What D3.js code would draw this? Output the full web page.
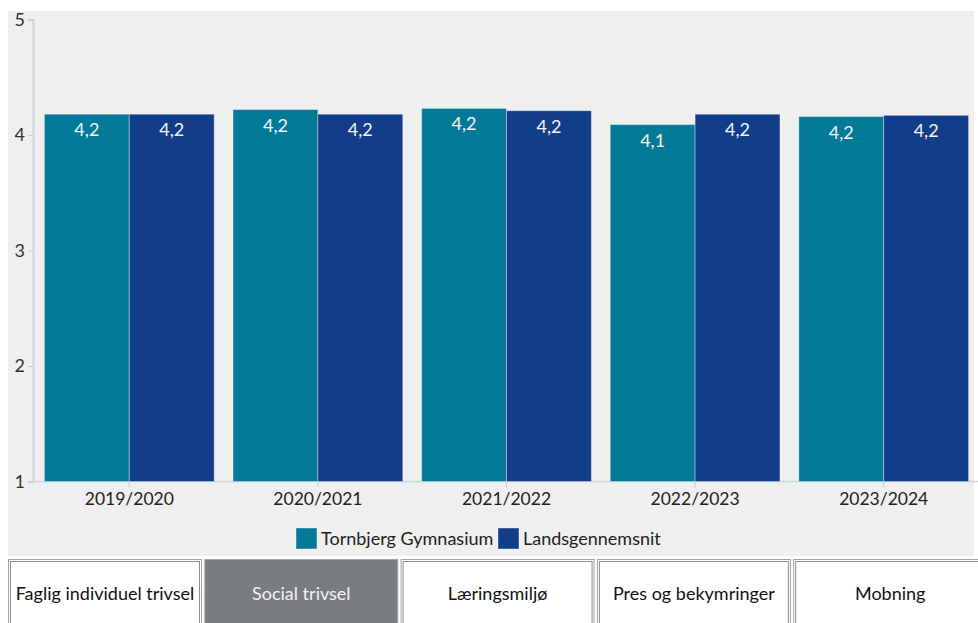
<!DOCTYPE html>
<html>
<head>
<meta charset="utf-8">
<script src="https://cdn.jsdelivr.net/npm/d3@7"></script>
<style>
  body { margin: 0; background: #fff; font-family: Lato, "Open Sans", sans-serif; }
  svg { display: block; }
</style>
</head>
<body>
<svg id="chart" width="978" height="623"></svg>
<script>
// data
const aar = ["2019/2020", "2020/2021", "2021/2022", "2022/2023", "2023/2024"]
const tornbjerg = [4.18, 4.22, 4.23, 4.09, 4.16]
const lands = [4.18, 4.18, 4.21, 4.18, 4.17]
const serier = ["Tornbjerg Gymnasium", "Landsgennemsnit"]
const yTicks = [1, 2, 3, 4, 5]
const knapper = ["Faglig individuel trivsel", "Social trivsel", "Læringsmiljø", "Pres og bekymringer", "Mobning"]
const aktiv = "Social trivsel"

const farver = ["#037b98", "#123d89"]

const svg = d3.select('#chart')

// grå baggrund
svg.append('rect')
  .attr('x', 8).attr('y', 11)
  .attr('width', 966).attr('height', 545)
  .attr('fill', '#efefef')

// skalaer
const x = d3.scaleBand().domain(aar).range([35, 978]).paddingInner(0.1).paddingOuter(0.05)
const xSerie = d3.scaleBand().domain(serier).range([0, x.bandwidth()])
const y = d3.scaleLinear().domain([1, 5]).range([481.5, 19.5])

// y-akse
const yAxis = svg.append('g')
  .attr('transform', 'translate(33,0)')
  .call(d3.axisLeft(y).tickValues(yTicks).tickSize(5).tickPadding(3).tickFormat(d3.format('d')))
yAxis.select('.domain').attr('stroke', '#cfd3da').attr('stroke-width', 2)
yAxis.selectAll('.tick line').attr('stroke', '#c8ccd2')
yAxis.selectAll('.tick text')
  .attr('fill', '#333').attr('font-size', 18).attr('font-family', 'Lato')

// x-akse
const xAxis = svg.append('g')
  .attr('transform', 'translate(0,481.5)')
  .call(d3.axisBottom(x).tickSize(6).tickPadding(5).tickSizeOuter(0))
xAxis.select('.domain').attr('stroke', '#cfd3da').attr('stroke-width', 1.5)
  .attr('d', 'M33,0H978')
xAxis.selectAll('.tick line').attr('stroke', '#c8ccd2')
xAxis.selectAll('.tick text')
  .attr('fill', '#222').attr('font-size', 17.5).attr('font-family', 'Lato')

// søjler
const rows = aar.map((a, i) => ({ aar: a, vals: [tornbjerg[i], lands[i]] }))
const grupper = svg.selectAll('g.gruppe')
  .data(rows)
  .join('g')
  .attr('class', 'gruppe')
  .attr('transform', d => `translate(${x(d.aar)},0)`)

const soejler = grupper.selectAll('g.bar')
  .data(d => d.vals.map((v, j) => ({ v, serie: serier[j], j })))
  .join('g')
  .attr('class', 'bar')

soejler.append('rect')
  .attr('x', d => xSerie(d.serie))
  .attr('y', d => y(d.v))
  .attr('width', xSerie.bandwidth())
  .attr('height', d => y(1) - y(d.v))
  .attr('fill', d => farver[d.j])
  .attr('stroke', 'rgba(255,255,255,0.35)')
  .attr('stroke-width', 1)

soejler.append('text')
  .attr('x', d => xSerie(d.serie) + xSerie.bandwidth() / 2)
  .attr('y', d => y(d.v) + 22)
  .attr('text-anchor', 'middle')
  .attr('font-size', 18)
  .attr('fill', '#f4f4f4')
  .text(d => d3.format('.1f')(d.v).replace('.', ','))

// legende
const legende = svg.append('g').attr('transform', 'translate(296,528)')
const legX = [0, 202]
const lg = legende.selectAll('g')
  .data(serier)
  .join('g')
  .attr('transform', (d, i) => `translate(${legX[i]},0)`)
lg.append('rect')
  .attr('width', 21).attr('height', 21)
  .attr('fill', (d, i) => farver[i])
  .attr('stroke', 'rgba(255,255,255,0.4)')
lg.append('text')
  .attr('x', 25).attr('y', 17)
  .attr('font-size', 18).attr('fill', '#222')
  .text(d => d)

// knapper
const kn = svg.selectAll('g.knap')
  .data(knapper)
  .join('g')
  .attr('class', 'knap')
  .attr('transform', (d, i) => `translate(${8 + i * 196.3},559)`)
kn.append('rect')
  .attr('x', 0.5).attr('y', 0.5)
  .attr('width', 193).attr('height', 80)
  .attr('fill', d => d === aktiv ? '#797d80' : '#fff')
  .attr('stroke', '#a3a3a3')
kn.append('rect')
  .attr('x', 2.5).attr('y', 2.5)
  .attr('width', 189).attr('height', 76)
  .attr('fill', 'none')
  .attr('stroke', d => d === aktiv ? '#797d80' : '#8e8e8e')
kn.append('text')
  .attr('x', 97).attr('y', 41)
  .attr('text-anchor', 'middle')
  .attr('font-size', 18)
  .attr('fill', d => d === aktiv ? '#f2f2f2' : '#111')
  .text(d => d)
</script>
</body>
</html>
